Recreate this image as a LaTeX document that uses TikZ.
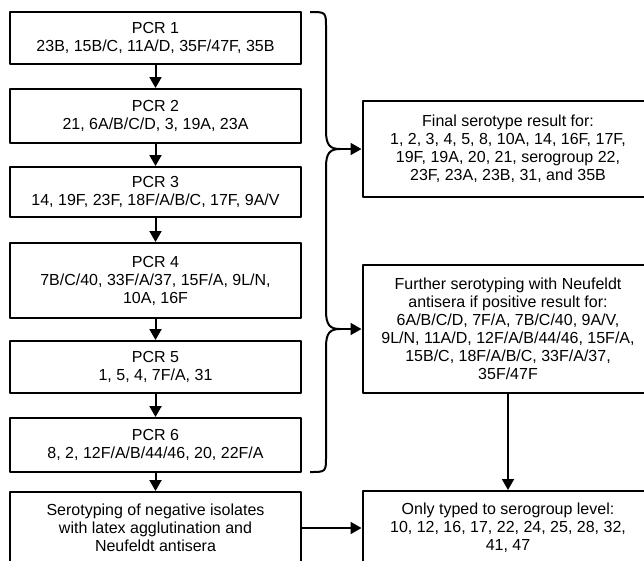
\documentclass[tikz,border=0pt]{standalone}
\usepackage{fontspec}
\setmainfont{Liberation Sans}
\usetikzlibrary{arrows.meta}
\tikzset{box/.style={draw,line width=2pt,minimum width=291pt,align=center,inner sep=0pt,font=\fontsize{16}{18}\selectfont}}
\begin{document}
\begin{tikzpicture}[x=1pt,y=-1pt,>={Triangle[length=11pt,width=12pt]},line join=round,line width=2pt]
            \clip (0,0) rectangle (644,560);
            % PCR steps
            \node[box,minimum height=52pt] (pcr1) at (155.5,38) {PCR 1\\23B, 15B/C, 11A/D, 35F/47F, 35B};
            \node[box,minimum height=54pt] (pcr2) at (155.5,116) {PCR 2\\21, 6A/B/C/D, 3, 19A, 23A};
            \node[box,minimum height=50pt] (pcr3) at (155.5,192) {PCR 3\\14, 19F, 23F, 18F/A/B/C, 17F, 9A/V};
            \node[box,minimum height=75pt] (pcr4) at (155.5,280.5) {PCR 4\\7B/C/40, 33F/A/37, 15F/A, 9L/N,\\10A, 16F};
            \node[box,minimum height=52pt] (pcr5) at (155.5,367) {PCR 5\\1, 5, 4, 7F/A, 31};
            \node[box,minimum height=54pt] (pcr6) at (155.5,445) {PCR 6\\8, 2, 12F/A/B/44/46, 20, 22F/A};
            \node[box,minimum height=72pt] (neg) at (155.5,528) {Serotyping of negative isolates\\with latex agglutination and\\Neufeldt antisera};
            % results
            \node[box,minimum height=96pt] (final) at (508,149) {Final serotype result for:\\1, 2, 3, 4, 5, 8, 10A, 14, 16F, 17F,\\19F, 19A, 20, 21, serogroup 22,\\23F, 23A, 23B, 31, and 35B};
            \node[box,minimum height=128pt] (further) at (508,329) {Further serotyping with Neufeldt\\antisera if positive result for:\\6A/B/C/D, 7F/A, 7B/C/40, 9A/V,\\9L/N, 11A/D, 12F/A/B/44/46, 15F/A,\\15B/C, 18F/A/B/C, 33F/A/37,\\35F/47F};
            \node[box,minimum height=74pt] (only) at (508,528) {Only typed to serogroup level:\\10, 12, 16, 17, 22, 24, 25, 28, 32,\\41, 47};
            \foreach \a/\b in {pcr1/pcr2,pcr2/pcr3,pcr3/pcr4,pcr4/pcr5,pcr5/pcr6,pcr6/neg}
            \draw[->] (\a) -- (\b);
            % brace
            \coordinate (tip1) at (340,149);
            \coordinate (tip2) at (340,329);
            \draw (310,12) .. controls (326,12) .. (326,28) -- (326,131)
                  .. controls (326,145) and (330,149) .. (tip1)
                  .. controls (330,149) and (326,153) .. (326,167) -- (326,311)
                  .. controls (326,325) and (330,329) .. (tip2)
                  .. controls (330,329) and (326,333) .. (326,347) -- (326,456)
                  .. controls (326,472) .. (310,472);
            \draw[->] (tip1) -- (final);
            \draw[->] (tip2) -- (further);
            \draw[->] (further) -- (only);
            \draw[->] (neg) -- (only);
    \end{tikzpicture}
\end{document}
